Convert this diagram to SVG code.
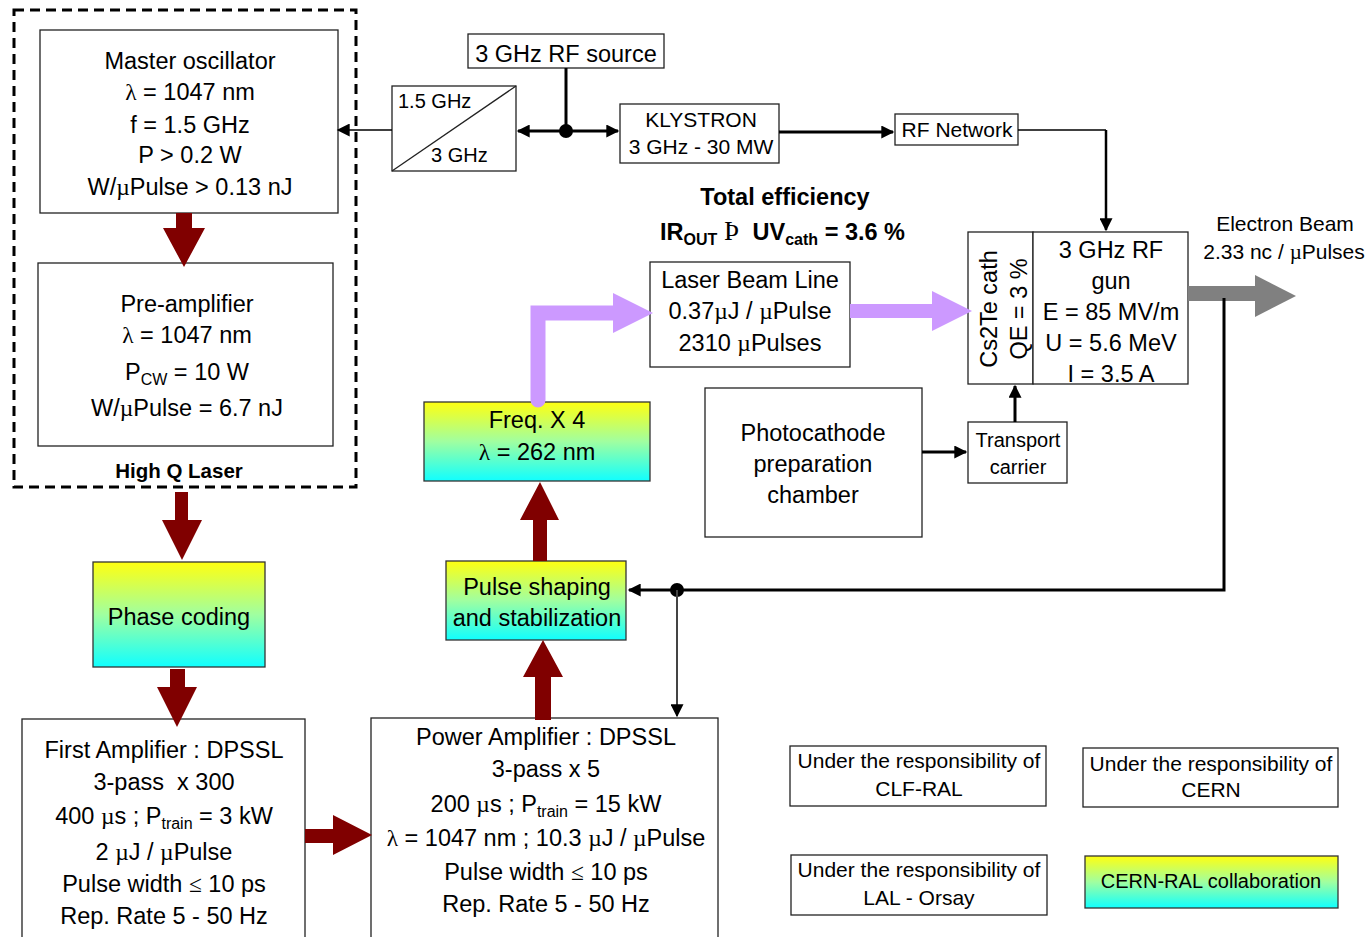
<svg xmlns="http://www.w3.org/2000/svg" width="1371" height="937" viewBox="0 0 1371 937">
<defs>
<style>
text{font-family:"Liberation Sans",Arial,sans-serif;fill:#000;text-anchor:middle}
.f24{font-size:23.5px}
.f21{font-size:21px}
.f20{font-size:20px}
.b{font-weight:bold}
.sym{font-family:"Liberation Serif","Times New Roman",serif}
.box{fill:#fff;stroke:#222;stroke-width:1.3}
.grad{fill:url(#yc);stroke:#333;stroke-width:1.3}
.red{fill:#800000}
.vio{fill:#cc99ff}
.thick{stroke:#000;stroke-width:3;fill:none}
.thin{stroke:#000;stroke-width:1.5;fill:none}
</style>
<linearGradient id="yc" x1="0" y1="0" x2="0" y2="1">
<stop offset="0" stop-color="#ffff10"/>
<stop offset="0.5" stop-color="#a0ffa0"/>
<stop offset="1" stop-color="#10ffff"/>
</linearGradient>
<marker id="ah" viewBox="0 0 10 10" refX="9" refY="5" markerWidth="15" markerHeight="13" markerUnits="userSpaceOnUse" orient="auto-start-reverse">
<path d="M0,0 L10,5 L0,10 z" fill="#000"/>
</marker>
</defs>

<!-- High Q Laser group -->
<g id="highq">
<rect x="14" y="10" width="342" height="477" fill="none" stroke="#000" stroke-width="3" stroke-dasharray="10,6"/>
<text class="b" font-size="20.5" x="179" y="478">High Q Laser</text>
</g>

<g id="master">
<rect class="box" x="40" y="30" width="298" height="183"/>
<text class="f24" x="190" y="69">Master oscillator</text>
<text class="f24" x="190" y="100"><tspan class="sym">λ</tspan> = 1047 nm</text>
<text class="f24" x="190" y="133">f = 1.5 GHz</text>
<text class="f24" x="190" y="163">P &gt; 0.2 W</text>
<text class="f24" x="190" y="195">W/<tspan class="sym">µ</tspan>Pulse &gt; 0.13 nJ</text>
</g>

<g id="preamp">
<rect class="box" x="38" y="263" width="295" height="183"/>
<text class="f24" x="187" y="312">Pre-amplifier</text>
<text class="f24" x="187" y="343"><tspan class="sym">λ</tspan> = 1047 nm</text>
<text class="f24" x="187" y="380">P<tspan font-size="16" dy="5">CW</tspan><tspan dy="-5"> = 10 W</tspan></text>
<text class="f24" x="187" y="416">W/<tspan class="sym">µ</tspan>Pulse = 6.7 nJ</text>
</g>

<g id="phase">
<rect class="grad" x="93" y="562" width="172" height="105"/>
<text class="f24" x="179" y="625">Phase coding</text>
</g>

<g id="firstamp">
<rect class="box" x="22" y="719" width="283" height="230"/>
<text class="f24" x="164" y="758">First Amplifier : DPSSL</text>
<text class="f24" x="164" y="790">3-pass&#160; x 300</text>
<text class="f24" x="164" y="824">400 <tspan class="sym">µ</tspan>s ; P<tspan font-size="16" dy="5">train</tspan><tspan dy="-5"> = 3 kW</tspan></text>
<text class="f24" x="164" y="860">2 <tspan class="sym">µ</tspan>J / <tspan class="sym">µ</tspan>Pulse</text>
<text class="f24" x="164" y="892">Pulse width <tspan class="sym">≤</tspan> 10 ps</text>
<text class="f24" x="164" y="924">Rep. Rate 5 - 50 Hz</text>
</g>

<g id="poweramp">
<rect class="box" x="371" y="718" width="347" height="230"/>
<text class="f24" x="546" y="745">Power Amplifier : DPSSL</text>
<text class="f24" x="546" y="777">3-pass x 5</text>
<text class="f24" x="546" y="812">200 <tspan class="sym">µ</tspan>s ; P<tspan font-size="16" dy="5">train</tspan><tspan dy="-5"> = 15 kW</tspan></text>
<text class="f24" x="546" y="846"><tspan class="sym">λ</tspan> = 1047 nm ; 10.3 <tspan class="sym">µ</tspan>J / <tspan class="sym">µ</tspan>Pulse</text>
<text class="f24" x="546" y="880">Pulse width <tspan class="sym">≤</tspan> 10 ps</text>
<text class="f24" x="546" y="912">Rep. Rate 5 - 50 Hz</text>
</g>

<g id="pulseshaping">
<rect class="grad" x="446" y="561" width="180" height="79"/>
<text class="f24" x="537" y="595">Pulse shaping</text>
<text class="f24" x="537" y="626">and stabilization</text>
</g>

<g id="freq">
<rect class="grad" x="424" y="402" width="226" height="79"/>
<text class="f24" x="537" y="428">Freq. X 4</text>
<text class="f24" x="537" y="460"><tspan class="sym">λ</tspan> = 262 nm</text>
</g>

<g id="laserbeamline">
<rect class="box" x="650" y="262" width="200" height="105"/>
<text class="f24" x="750" y="288">Laser Beam Line</text>
<text class="f24" x="750" y="319">0.37<tspan class="sym">µ</tspan>J / <tspan class="sym">µ</tspan>Pulse</text>
<text class="f24" x="750" y="351">2310 <tspan class="sym">µ</tspan>Pulses</text>
</g>

<g id="cathode">
<rect class="box" x="968" y="232" width="65" height="152"/>
<text class="f24" transform="translate(997,309) rotate(-90)">Cs2Te cath</text>
<text class="f24" transform="translate(1027,309) rotate(-90)">QE = 3 %</text>
</g>

<g id="rfgun">
<rect class="box" x="1033" y="232" width="155" height="152"/>
<text class="f24" x="1111" y="258">3 GHz RF</text>
<text class="f24" x="1111" y="289">gun</text>
<text class="f24" x="1111" y="320">E = 85 MV/m</text>
<text class="f24" x="1111" y="351">U = 5.6 MeV</text>
<text class="f24" x="1111" y="382">I = 3.5 A</text>
</g>

<g id="electronbeam">
<text class="f21" x="1285" y="231">Electron Beam</text>
<text class="f21" x="1284" y="259">2.33 nc / <tspan class="sym">µ</tspan>Pulses</text>
</g>

<g id="photocathode">
<rect class="box" x="705" y="388" width="217" height="149"/>
<text class="f24" x="813" y="441">Photocathode</text>
<text class="f24" x="813" y="472">preparation</text>
<text class="f24" x="813" y="503">chamber</text>
</g>

<g id="transport">
<rect class="box" x="968" y="422" width="99" height="61"/>
<text class="f20" x="1018" y="447">Transport</text>
<text class="f20" x="1018" y="474">carrier</text>
</g>

<g id="rfsource">
<rect class="box" x="468" y="34" width="196" height="34"/>
<text class="f24" x="566" y="62">3 GHz RF source</text>
</g>

<g id="divider">
<rect class="box" x="392" y="86" width="124" height="85"/>
<line x1="392" y1="171" x2="516" y2="86" stroke="#222" stroke-width="1.3"/>
<text class="f20" x="398" y="108" style="text-anchor:start">1.5 GHz</text>
<text class="f20" x="431" y="162" style="text-anchor:start">3 GHz</text>
</g>

<g id="klystron">
<rect class="box" x="620" y="104" width="159" height="59"/>
<text class="f21" x="701" y="127">KLYSTRON</text>
<text class="f21" x="701" y="154">3 GHz - 30 MW</text>
</g>

<g id="rfnetwork">
<rect class="box" x="895" y="114" width="123" height="31"/>
<text class="f21" x="957" y="137">RF Network</text>
</g>

<g id="efficiency">
<text class="f24 b" x="785" y="205">Total efficiency</text>
<text class="f24 b" x="660" y="240" style="text-anchor:start">IR<tspan font-size="16" dy="5">OUT</tspan><tspan dy="-5" class="sym" font-weight="normal" font-size="27">&#160;Þ&#160;&#160;</tspan>UV<tspan font-size="16" dy="5">cath</tspan><tspan dy="-5"> = 3.6 %</tspan></text>
</g>

<g id="legend-clf">
<rect class="box" x="790" y="746" width="256" height="60"/>
<text class="f21" x="919" y="768">Under the responsibility of</text>
<text class="f21" x="919" y="796">CLF-RAL</text>
</g>
<g id="legend-cern">
<rect class="box" x="1083" y="748" width="255" height="59"/>
<text class="f21" x="1211" y="771">Under the responsibility of</text>
<text class="f21" x="1211" y="797">CERN</text>
</g>
<g id="legend-lal">
<rect class="box" x="791" y="855" width="256" height="60"/>
<text class="f21" x="919" y="877">Under the responsibility of</text>
<text class="f21" x="919" y="905">LAL - Orsay</text>
</g>
<g id="legend-collab">
<rect class="grad" x="1085" y="856" width="253" height="52"/>
<text class="f20" x="1211" y="888">CERN-RAL collaboration</text>
</g>

<!-- Connectors -->
<g id="connectors">
<polygon class="red" points="176,213 192,213 192,228 205,228 184,267 163,228 176,228"/>
<polygon class="red" points="175,492 188,492 188,520 202,520 182,560 162,520 175,520"/>
<polygon class="red" points="170,669 185,669 185,687 197,687 177,727 157,687 170,687"/>
<polygon class="red" points="305,829 333,829 333,815 372,835 333,855 333,843 305,843"/>
<polygon class="red" points="535,720 551,720 551,677 563,677 543,640 523,677 535,677"/>
<polygon class="red" points="533,561 547,561 547,520 559,520 540,482 520,520 533,520"/>

<path d="M538,400 L538,313 L615,313" fill="none" stroke="#cc99ff" stroke-width="15" stroke-linecap="round" stroke-linejoin="miter"/>
<polygon class="vio" points="613,293 653,313 613,333"/>
<rect class="vio" x="850" y="304" width="84" height="14"/>
<polygon class="vio" points="932,291 972,311 932,331"/>

<rect x="1188" y="286" width="69" height="15" fill="#808080"/>
<polygon points="1255,275 1296,296 1255,317" fill="#808080"/>

<line class="thin" x1="392" y1="130" x2="338" y2="130" marker-end="url(#ah)"/>
<line class="thick" x1="566" y1="68" x2="566" y2="131"/>
<line class="thick" x1="518" y1="131" x2="618" y2="131" marker-start="url(#ah)" marker-end="url(#ah)"/>
<circle cx="566" cy="131" r="7" fill="#000"/>
<line class="thick" x1="779" y1="132" x2="893" y2="132" marker-end="url(#ah)"/>
<polyline class="thin" points="1018,130 1106,130"/>
<line x1="1106" y1="130" x2="1106" y2="230" stroke="#000" stroke-width="2.5" marker-end="url(#ah)"/>
<line class="thick" x1="922" y1="452" x2="966" y2="452" marker-end="url(#ah)"/>
<line class="thick" x1="1015" y1="422" x2="1015" y2="386" marker-end="url(#ah)"/>
<polyline class="thick" points="1224,298 1224,590 629,590" marker-end="url(#ah)"/>
<circle cx="677" cy="590" r="7" fill="#000"/>
<line x1="677" y1="590" x2="677" y2="716" stroke="#444" stroke-width="2" marker-end="url(#ah)"/>
</g>
</svg>
